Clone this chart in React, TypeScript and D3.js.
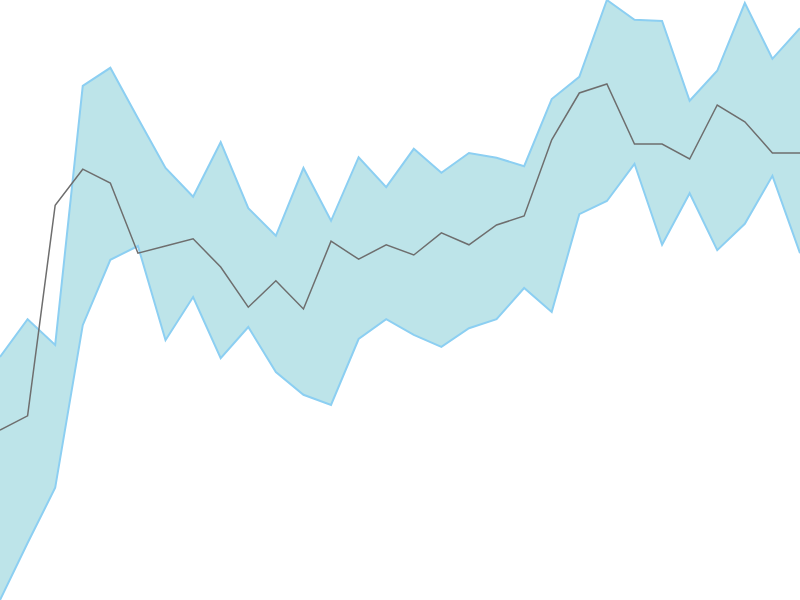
import React, { useEffect, useRef } from "react";
import * as d3 from "d3";

// 30 evenly spaced samples (0..100 scale)
const upper = [
  40.5, 46.8, 42.5, 85.7, 88.7, 80.3, 72.0, 67.2, 76.3, 65.3,
  60.7, 72.0, 63.2, 73.8, 68.8, 75.2, 71.2, 74.5, 73.7, 72.3,
  83.5, 87.2, 100, 96.7, 96.5, 83.2, 88.2, 99.5, 90.2, 95.3,
];
const lower = [
  0, 9.5, 18.7, 45.8, 56.7, 59.0, 43.3, 50.5, 40.3, 45.5,
  38.0, 34.2, 32.5, 43.5, 46.8, 44.2, 42.2, 45.3, 46.8, 52.0,
  48.0, 64.3, 66.5, 72.7, 59.2, 67.8, 58.3, 62.7, 70.7, 57.8,
];
const mean = [
  28.3, 30.7, 65.8, 71.8, 69.5, 57.8, 59.0, 60.2, 55.5, 48.8,
  53.2, 48.5, 59.8, 56.8, 59.2, 57.5, 61.2, 59.2, 62.5, 64.0,
  76.7, 84.5, 86.0, 76.0, 76.0, 73.5, 82.5, 79.7, 74.5, 74.5,
];

const App: React.FC = () => {
  const svgRef = useRef<SVGSVGElement>(null);

  useEffect(() => {
    if (!svgRef.current) return;
    const width = 800;
    const height = 600;

    const svg = d3.select(svgRef.current);
    svg.selectAll("*").remove();
    svg.attr("width", width).attr("height", height);

    const x = d3
      .scaleLinear()
      .domain([0, mean.length - 1])
      .range([0, width]);
    const y = d3.scaleLinear().domain([0, 100]).range([height, 0]);

    const idx = d3.range(mean.length);

    // band fill
    const area = d3
      .area<number>()
      .x((i) => x(i))
      .y0((i) => y(lower[i]))
      .y1((i) => y(upper[i]));

    svg
      .append("path")
      .datum(idx)
      .attr("d", area)
      .attr("fill", "#bde4e9");

    // band edges (no closing verticals)
    [upper, lower].forEach((series) => {
      const edge = d3
        .line<number>()
        .x((i) => x(i))
        .y((i) => y(series[i]));
      svg
        .append("path")
        .datum(idx)
        .attr("d", edge)
        .attr("fill", "none")
        .attr("stroke", "#8ccff2")
        .attr("stroke-width", 2);
    });

    const line = d3
      .line<number>()
      .x((i) => x(i))
      .y((i) => y(mean[i]));

    svg
      .append("path")
      .datum(idx)
      .attr("d", line)
      .attr("fill", "none")
      .attr("stroke", "#6e6e6e")
      .attr("stroke-width", 1.5);
  }, []);

  return (
    <svg
      ref={svgRef}
      style={{ position: "fixed", top: 0, left: 0, display: "block" }}
    />
  );
};

export default App;
